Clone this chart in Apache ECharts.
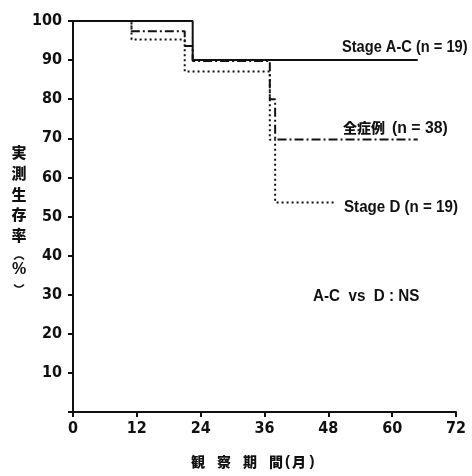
<!DOCTYPE html>
<html><head><meta charset="utf-8">
<script src="https://cdn.jsdelivr.net/npm/echarts@6/dist/echarts.min.js"></script>
<style>html,body{margin:0;padding:0;background:#fff}#c{width:472px;height:476px}</style>
</head><body><div id="c"></div>
<script>
// Kaplan-Meier style survival data (months, %)
const monthsAC = [0, 22.5, 64.8];
const survAC = [100, 90, 90];
const monthsAll = [0, 11, 21, 22.5, 37, 38, 64.8];
const survAll = [100, 97.4, 93.6, 89.8, 80, 69.7, 69.7];
const monthsD = [0, 11, 21, 37, 38, 49.2];
const survD = [100, 95.3, 87.1, 69.6, 53.6, 53.6];
const xTicks = [0, 12, 24, 36, 48, 60, 72];
const yTicks = [10, 20, 30, 40, 50, 60, 70, 80, 90, 100];

const zip = (a, b) => a.map((v, i) => [v, b[i]]);
const NARROW = "'DejaVu Sans Condensed','Liberation Sans',sans-serif";
const SANS = "'Liberation Sans','Arial',sans-serif";
const CJK = "'Noto Sans CJK JP',sans-serif";
const ink = '#111';

function label(text, x, y, size, sx) {
  return { type: 'text', x: x, y: y, scaleX: sx, z: 10,
    style: { text: text, fill: ink, font: 'bold ' + size + 'px ' + SANS, textVerticalAlign: 'middle' } };
}
function cjk(text, x, y, size, align) {
  return { type: 'text', x: x, y: y, z: 10,
    style: { text: text, fill: ink, font: '900 ' + size + 'px ' + CJK, textVerticalAlign: 'middle', textAlign: align || 'left' } };
}

const chart = echarts.init(document.getElementById('c'));
chart.setOption({
  animation: false,
  backgroundColor: '#fff',
  grid: { left: 73, right: 16, top: 21, bottom: 64 },
  xAxis: {
    type: 'value', min: 0, max: 72, interval: 12,
    axisLine: { lineStyle: { color: ink, width: 2 } },
    axisTick: { show: true, length: 5, lineStyle: { color: ink, width: 2 } },
    axisLabel: { color: ink, fontFamily: NARROW, fontWeight: 'bold', fontSize: 16, margin: 9,
      formatter: v => xTicks.includes(v) ? String(v) : '' },
    splitLine: { show: false }
  },
  yAxis: {
    type: 'value', min: 0, max: 100, interval: 10,
    axisLine: { show: true, lineStyle: { color: ink, width: 2 } },
    axisTick: { show: true, length: 5, lineStyle: { color: ink, width: 2 } },
    axisLabel: { color: ink, fontFamily: NARROW, fontWeight: 'bold', fontSize: 16, margin: 11,
      formatter: v => yTicks.includes(v) ? String(v) : '' },
    splitLine: { show: false }
  },
  series: [
    { name: 'Stage A-C', type: 'line', step: 'end', symbol: 'none',
      data: zip(monthsAC, survAC), lineStyle: { color: ink, width: 2, type: 'solid' }, z: 3 },
    { name: '全症例', type: 'line', step: 'end', symbol: 'none',
      data: zip(monthsAll, survAll), lineStyle: { color: ink, width: 2, type: [9, 3, 2, 3] }, z: 4 },
    { name: 'Stage D', type: 'line', step: 'end', symbol: 'none',
      data: zip(monthsD, survD), lineStyle: { color: ink, width: 2, type: [2, 3] }, z: 2 }
  ],
  graphic: [
    label('Stage A-C (n = 19)', 342, 47, 17, 0.86),
    cjk('全症例', 343, 128, 14),
    label('(n = 38)', 392, 128, 17, 0.93),
    label('Stage D (n = 19)', 344, 207, 17, 0.89),
    label('A-C  vs  D : NS', 313, 297, 16, 0.95),
    cjk('実', 19, 152.5, 15, 'center'),
    cjk('測', 19, 173.2, 15, 'center'),
    cjk('生', 19, 194, 15, 'center'),
    cjk('存', 19, 214.7, 15, 'center'),
    cjk('率', 19, 235.5, 15, 'center'),
    { type: 'arc', z: 10, shape: { cx: 19, cy: 263, r: 6, startAngle: Math.PI * 1.2, endAngle: Math.PI * 1.8 },
      style: { stroke: ink, lineWidth: 1.6, fill: null } },
    { type: 'text', x: 19, y: 270, z: 10,
      style: { text: '%', fill: ink, font: 'bold 16px ' + SANS, textAlign: 'center', textVerticalAlign: 'middle' } },
    { type: 'arc', z: 10, shape: { cx: 19, cy: 281, r: 6, startAngle: Math.PI * 0.2, endAngle: Math.PI * 0.8 },
      style: { stroke: ink, lineWidth: 1.6, fill: null } },
    cjk('観', 191, 462, 14),
    cjk('察', 217, 462, 14),
    cjk('期', 243, 462, 14),
    cjk('間', 269, 462, 14),
    { type: 'text', x: 287.5, y: 462, z: 10,
      style: { text: '(', fill: ink, font: 'bold 15px ' + SANS, textAlign: 'center', textVerticalAlign: 'middle' } },
    cjk('月', 299, 462, 14, 'center'),
    { type: 'text', x: 312, y: 462, z: 10,
      style: { text: ')', fill: ink, font: 'bold 15px ' + SANS, textAlign: 'center', textVerticalAlign: 'middle' } }
  ]
});
</script></body></html>
